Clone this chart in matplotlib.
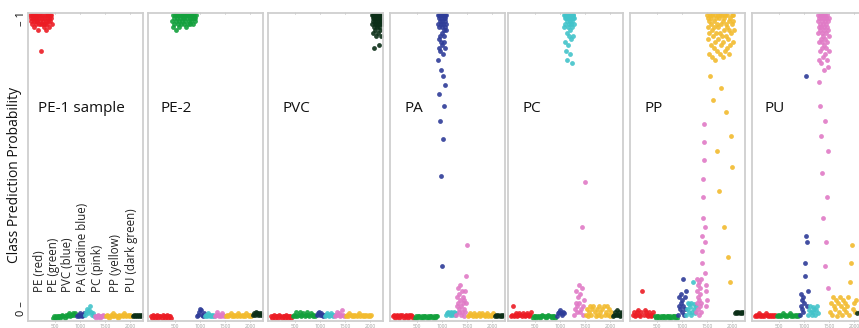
import numpy as np
import matplotlib
matplotlib.use("Agg")
import matplotlib.pyplot as plt

plt.rcParams['font.family'] = ['Open Sans', 'DejaVu Sans']

# classes in the order the samples are stacked along x
classes = ["PE", "PE2", "PVC", "PA", "PC", "PP", "PU"]
class_colors = ["#ec1c24", "#12a03c", "#2e3c98", "#42c3ca", "#e07ac6", "#f2bb2e", "#0b2e17"]
# sample index ranges of each class group
group_start = [0, 440, 920, 1080, 1280, 1500, 2040]
group_size = [440, 480, 160, 200, 220, 540, 200]

legend_labels = ["PE (red)", "PE (green)", "PVC (blue)", "PA (cladine blue)",
                 "PC (pink)", "PP (yellow)", "PU (dark green)"]
panel_titles = ["PE-1 sample", "PE-2", "PVC", "PA", "PC", "PP", "PU"]

# predicted probability (%) for each sample group, one dict per model
pe1 = {
    "PE": [100, 99, 98, 100, 97, 99, 100, 96, 98, 100, 99, 97, 98, 100, 98, 99, 95, 100, 97, 99,
           98, 100, 88, 97, 99, 100, 97, 98, 96, 99, 100, 97, 98, 95, 100, 99, 97, 100, 98, 96,
           99, 100, 98, 99, 100, 97],
    "PE2": [0, 0.5, 0, 0.5, 0, 0.5, 0.5, 0, 0.5, 1, 0.5, 0, 1, 0.5, 1, 1.5, 0.5, 1, 1, 1.5, 1, 1.5],
    "PVC": [0.5, 1, 0.5, 1.5, 1, 0.5, 1, 1.5],
    "PA": [1, 2, 3, 1.5, 2.5, 4, 2, 1, 1.5, 0.5],
    "PC": [0.5, 0, 0.5, 1, 0.5, 0, 0.5, 0.5, 1, 0.5],
    "PP": [0.5, 1, 0.5, 0, 1, 0.5, 1.5, 0.5, 1, 0.5, 0, 1, 0.5, 1, 0.5, 1.5, 1, 0.5, 1, 0.5, 1, 0.5],
    "PU": [0.5, 1, 0.5, 1, 0.5, 1, 0.5, 1, 0.5, 1],
}
pe2 = {
    "PE": [0.5, 0, 1, 0.5, 0, 0.5, 1, 0, 0.5, 0.5, 0, 1, 0.5, 0, 0.5, 1, 0, 0.5, 0.5, 0],
    "PE2": [98, 100, 96, 99, 97, 100, 95, 98, 100, 99, 97, 100, 98, 96, 100, 99, 97, 100, 98, 99,
            100, 97, 99, 100, 98, 96, 100, 99, 97, 100, 98, 100, 99, 97, 100, 98, 99, 100, 97, 99,
            100, 98, 99, 100],
    "PVC": [0.5, 1, 2, 3, 2.5, 1, 0.5, 1.5],
    "PA": [0.5, 1, 0.5, 1.5, 1, 0.5, 1, 0.5, 1, 0.5],
    "PC": [0.5, 1, 2, 1, 0.5, 1, 0.5, 1.5, 1, 0.5],
    "PP": [0.5, 1, 0.5, 1, 1.5, 0.5, 1, 0.5, 1, 0.5, 1.5, 1, 0.5, 1, 0.5, 1, 0.5, 1.5, 1, 0.5, 1, 0.5],
    "PU": [1, 1.5, 1, 2, 1.5, 1, 1.5, 1, 1.5, 1],
}
pvc = {
    "PE": [0.5, 0, 0.5, 1, 0, 0.5, 0.5, 0, 1, 0.5, 0, 0.5, 0.5, 0, 1, 0.5, 0, 0.5, 0.5, 0],
    "PE2": [0.5, 1, 0.5, 2, 0.5, 1, 2, 0.5, 1, 1.5, 0.5, 1, 2, 1, 0.5, 1.5, 1, 0.5, 1, 0.5],
    "PVC": [1, 1.5, 2, 1, 1.5, 1, 0.5, 1],
    "PA": [0.5, 1, 1.5, 1, 0.5, 1, 1.5, 1, 0.5, 1],
    "PC": [0.5, 1, 2, 1, 1.5, 0.5, 1, 2.5, 1, 0.5],
    "PP": [0.5, 1, 0.5, 1.5, 1, 0.5, 1, 0.5, 1, 0.5, 1, 1.5, 0.5, 1, 0.5, 1, 0.5, 1, 0.5, 1, 0.5, 1],
    "PU": [100, 97, 99, 94, 100, 98, 96, 100, 89, 99, 97, 100, 95, 98, 100, 93, 99, 97, 100, 96,
           98, 100, 94, 99, 97, 100, 90, 98, 96, 100, 99, 95, 97, 100, 98, 93, 99, 100, 97, 98],
}
pa = {
    "PE": [0.5, 1, 0, 0.5, 1, 0.5, 0, 1, 0.5, 1, 0, 0.5, 1, 0.5, 0, 1, 0.5, 1, 0.5, 0],
    "PE2": [0, 0.5, 0, 0.5, 0.5, 0, 0.5, 0, 0.5, 0.5, 0, 0.5, 0, 0.5, 0.5, 0, 0.5, 0, 0.5, 0.5],
    "PVC": [100, 97, 85, 99, 92, 100, 74, 96, 89, 100, 98, 65, 93, 100, 88, 97, 47, 100, 91, 99,
            82, 96, 100, 90, 17, 98, 94, 100, 80, 97, 87, 100, 59, 95, 99, 91, 70, 100, 93, 98,
            77, 100, 96, 89, 99, 100, 97, 95],
    "PA": [1, 1.5, 2, 1.5, 1, 2, 1.5, 1, 1.5, 2, 1, 1.5],
    "PC": [1, 4, 7, 10, 5, 2, 8, 3, 11, 6, 1, 4, 9, 2, 5, 7, 0.5, 3, 6, 9, 2, 14, 5, 24],
    "PP": [0.5, 1, 1.5, 1, 0.5, 1.5, 1, 0.5, 1, 1.5, 0.5, 1, 1.5, 1, 0.5, 1, 1.5, 0.5, 1, 0.5, 1, 1.5],
    "PU": [0.5, 1, 0.5, 1, 0.5, 1, 0.5, 1],
}
pc = {
    "PE": [0.5, 1, 4, 0.5, 1, 1.5, 0.5, 1, 1.5, 1, 0.5, 1.5, 1, 0.5, 1, 1.5, 1, 0.5, 1, 2],
    "PE2": [0, 0.5, 0.5, 0, 0.5, 0.5, 0, 0.5, 1, 0.5, 0.5, 0, 0.5, 1, 0.5, 0.5, 0, 0.5, 0.5, 0],
    "PVC": [0.5, 1.5, 2, 2.5, 1.5, 1, 2, 1.5],
    "PA": [100, 96, 99, 91, 100, 97, 88, 99, 100, 94, 98, 85, 100, 96, 99, 90, 100, 97, 93, 99,
           100, 87, 98, 95, 100, 99, 92, 97, 100, 84, 98, 96, 100, 93, 99, 100, 97, 99],
    "PC": [1, 3, 5, 9, 4, 2, 7, 11, 5, 2, 8, 3, 30, 10, 1, 4, 6, 45],
    "PP": [1, 3, 0.5, 2, 4, 1, 3, 4, 2, 0.5, 3, 1, 4, 2, 0.5, 3, 4, 1, 2, 4, 1, 3, 0.5, 2],
    "PU": [0.5, 1, 2, 1, 2.5, 1, 2, 0.5, 1, 2],
}
pp = {
    "PE": [1, 2, 0.5, 1, 2, 2.5, 1, 0.5, 2, 9, 1, 2.5, 2, 1, 0.5, 2, 1, 0.5, 1, 2],
    "PE2": [0.5, 0, 0.5, 0.5, 0, 0.5, 0, 0.5, 0.5, 0, 0.5, 0.5, 0, 0.5, 0, 0.5, 0.5, 0, 0.5, 0],
    "PVC": [1, 4, 7, 3, 8, 5, 2, 6, 13, 4, 1, 7, 3, 9],
    "PA": [1, 3, 5, 2, 4.5, 3.5, 1, 5, 2, 12, 3, 4.5, 1.5, 4],
    "PC": [2, 5, 9, 13, 7, 3, 11, 6, 1, 12, 8, 4, 10, 5, 13, 2, 18, 22, 27, 33, 40, 46, 52, 58,
           64, 25, 30, 15, 9, 4, 11, 6],
    "PP": [100, 96, 92, 99, 87, 98, 94, 100, 80, 97, 90, 99, 95, 86, 100, 93, 72, 98, 89, 96,
           100, 91, 85, 99, 94, 55, 97, 88, 100, 92, 96, 42, 99, 87, 94, 100, 90, 97, 76, 93,
           100, 86, 98, 91, 30, 95, 99, 88, 100, 93, 68, 97, 89, 96, 100, 20, 92, 98, 87, 95,
           12, 99, 90, 60, 94, 100, 50, 97, 98, 91, 100, 95],
    "PU": [1.5, 2, 1.5, 2, 1.5, 2, 1.5, 2],
}
pu = {
    "PE": [0.5, 1, 0.5, 1, 1.5, 0.5, 1, 0.5, 1, 0.5, 1.5, 1, 0.5, 1, 0.5, 1, 0.5, 1, 0.5, 1],
    "PE2": [0.5, 1, 0.5, 1, 0.5, 1.5, 1, 0.5, 1, 0.5, 1, 1.5, 0.5, 1, 0.5, 1, 0.5, 1, 0.5, 1],
    "PVC": [1, 4, 8, 3, 6, 2, 7, 5, 14, 18, 27, 80, 4, 25, 9],
    "PA": [1, 2.5, 4, 2, 1, 3.5, 2, 3, 1, 2.5, 4, 1.5],
    "PC": [100, 94, 98, 85, 99, 91, 96, 78, 100, 88, 95, 97, 70, 92, 99, 84, 96, 60, 100, 89,
           94, 98, 48, 91, 97, 86, 100, 93, 33, 96, 90, 99, 82, 95, 17, 98, 87, 100, 92, 65,
           97, 89, 94, 25, 99, 85, 96, 40, 91, 100, 83, 55, 95, 10, 98, 88, 99, 93],
    "PP": [2, 5, 1, 7, 4, 3, 6, 0.5, 5, 2, 7, 4, 1, 6, 3, 5, 2, 4, 7, 1, 12, 18, 24, 3, 5, 2, 6],
    "PU": [1.5, 2, 3, 2],
}
panels = [pe1, pe2, pvc, pa, pc, pp, pu]

# panel placement in pixels (859 x 328 canvas)
W, H = 859, 328
panel_left = [28, 148, 268, 390, 508, 630, 752]
panel_w, panel_top, panel_bottom = 115, 13, 321
title_dx = [10, 12, 15, 15, 15, 15, 13]

fig = plt.figure(figsize=(W / 100, H / 100), dpi=100)

for k, (data, title) in enumerate(zip(panels, panel_titles)):
    ax = fig.add_axes([panel_left[k] / W, (H - panel_bottom) / H,
                       panel_w / W, (panel_bottom - panel_top) / H])
    for c, cls in enumerate(classes):
        vals = np.array(data[cls]) / 100.0
        n = len(vals)
        xs = group_start[c] + (np.arange(n) + 0.5) * group_size[c] / n
        ax.scatter(xs, vals, s=12, color=class_colors[c], linewidths=0, alpha=0.9, zorder=2)

    ax.set_xlim(-40, 2260)
    ax.set_ylim(-0.0099, 1.0066)
    ax.set_xticks([500, 1000, 1500, 2000])
    ax.set_xticklabels(["500", "1000", "1500", "2000"], fontsize=3.5, color="#a0a0a0")
    ax.tick_params(axis="x", length=2, width=0.6, color="#b0b0b0", pad=1,
                   top=True, direction="inout")
    ax.set_yticks([])
    for sp in ax.spines.values():
        sp.set_color("#cfcfcf")
        sp.set_linewidth(1.3)

    ax.text(title_dx[k] / panel_w, 0.69, title, transform=ax.transAxes,
            fontsize=11, color="#111111", va="center", ha="left")

    if k == 0:
        legend_x = [39.5, 54, 67.5, 82.5, 97, 116, 131]
        for lx, lab in zip(legend_x, legend_labels):
            ax.text((lx - panel_left[0]) / panel_w, 0.094, lab, transform=ax.transAxes,
                    rotation=90, fontsize=8.3, color="#222222", ha="center", va="bottom")

fig.text(15 / W, 1 - 175 / H, "Class Prediction Probability", rotation=90,
         fontsize=10, color="#111111", ha="center", va="center")
fig.text(21 / W, 1 - 19 / H, "– 1", rotation=90, fontsize=8, color="#111111",
         ha="center", va="center")
fig.text(21 / W, 1 - 309 / H, "0 –", rotation=90, fontsize=8, color="#111111",
         ha="center", va="center")

fig.savefig("out.png", dpi=100)
